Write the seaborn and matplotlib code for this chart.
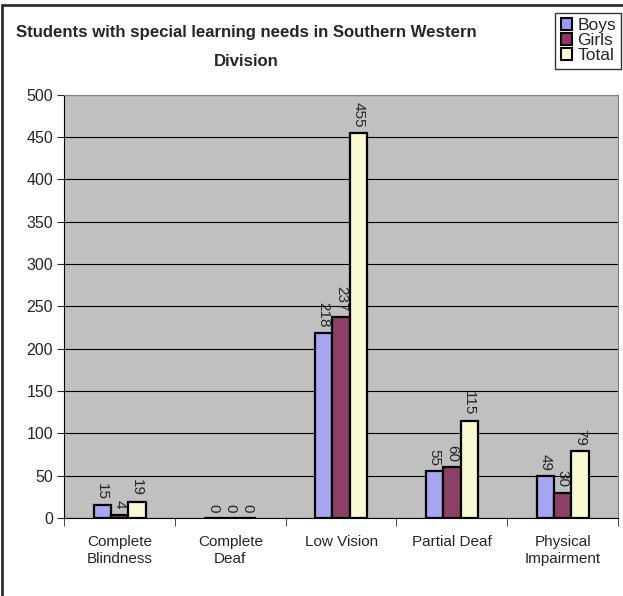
import pandas as pd
import matplotlib.pyplot as plt
import seaborn as sns
from matplotlib.patches import Rectangle
from matplotlib.lines import Line2D

categories = ['Complete\nBlindness', 'Complete\nDeaf', 'Low Vision', 'Partial Deaf', 'Physical\nImpairment']
boys = [15, 0, 218, 55, 49]
girls = [4, 0, 237, 60, 30]
total = [19, 0, 455, 115, 79]
series = ['Boys', 'Girls', 'Total']
colors = ['#9999FF', '#993366', '#FFFFCC']

df = pd.DataFrame({
    'category': categories * 3,
    'series': [s for s in series for _ in categories],
    'value': boys + girls + total,
})

sns.set_style('white')
plt.rcParams['font.family'] = ['Liberation Sans', 'DejaVu Sans']

fig = plt.figure(figsize=(6.23, 5.96), dpi=100)
ax = fig.add_axes([0.103, 0.131, 0.889, 0.71])

sns.barplot(data=df, x='category', y='value', hue='series', palette=colors,
            width=0.47, gap=0, edgecolor='black', linewidth=1.6, ax=ax,
            legend=False, errorbar=None)

ax.set_facecolor('#C0C0C0')
ax.set_ylim(0, 500)
ax.set_yticks(range(0, 501, 50))
ax.grid(axis='y', color='black', linewidth=0.8)
ax.set_axisbelow(True)
ax.set_xlabel('')
ax.set_ylabel('')
for side in ['top', 'right']:
    ax.spines[side].set_color('#808080')
for side in ['left', 'bottom']:
    ax.spines[side].set_color('black')
ax.tick_params(axis='y', labelsize=11.5, length=5, left=True, direction='out', pad=3)
ax.tick_params(axis='x', labelsize=11, length=0, pad=12)
ax.set_xticks(range(len(categories)))
ax.set_xticklabels(categories, linespacing=1.3)
ax.set_xticks([i + 0.5 for i in range(-1, len(categories))], minor=True)
ax.tick_params(axis='x', which='minor', length=6, bottom=True, direction='out')
ax.set_xlim(-0.5, len(categories) - 0.5)

for cont in ax.containers:
    ax.bar_label(cont, rotation=270, padding=4, fontsize=11)

fig.text(0.396, 0.946, 'Students with special learning needs in Southern Western',
         ha='center', va='center', fontsize=12.1, fontweight='bold')
fig.text(0.396, 0.896, 'Division', ha='center', va='center', fontsize=12.1, fontweight='bold')

handles = [Rectangle((0, 0), 1, 1, facecolor=c, edgecolor='black', linewidth=1.5) for c in colors]
fig.legend(handles, series, loc='upper right', bbox_to_anchor=(0.997, 0.978),
           frameon=True, fancybox=False, edgecolor='black', fontsize=12.5,
           handlelength=0.65, handleheight=0.65, handletextpad=0.3,
           labelspacing=0.0, borderpad=0.3, borderaxespad=0)

# figure frame: top and left edges only
fig.add_artist(Line2D([0.004, 1.0], [0.991, 0.991], transform=fig.transFigure,
                      color='#303030', linewidth=2))
fig.add_artist(Line2D([0.004, 0.004], [0.0, 0.991], transform=fig.transFigure,
                      color='#303030', linewidth=2))

fig.savefig('out.png', dpi=100)
